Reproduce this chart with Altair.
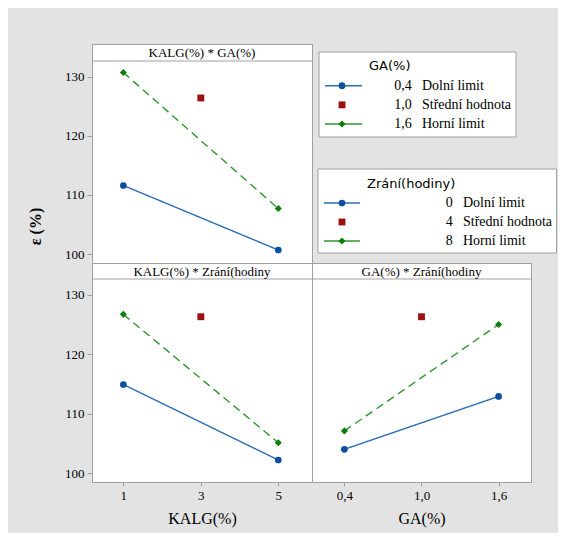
import altair as alt
import pandas as pd

# ---------------- data ----------------
series = ["low", "center", "high"]

kalg_levels = [1, 5]
kalg_center = 3
ga_levels = [0.4, 1.6]
ga_center = 1.0

# KALG(%) * GA(%)
p1_low = [111.6, 100.7]     # GA 0,4
p1_high = [130.7, 107.7]    # GA 1,6
p1_center = 126.4           # GA 1,0
# KALG(%) * Zrání(hodiny)
p2_low = [114.9, 102.2]     # 0 h
p2_high = [126.7, 105.1]    # 8 h
p2_center = 126.3           # 4 h
# GA(%) * Zrání(hodiny)
p3_low = [104.0, 112.9]
p3_high = [107.1, 125.0]
p3_center = 126.3

kalg_ticks = [1, 3, 5]
ga_ticks = [0.4, 1.0, 1.6]
y_ticks = [100, 110, 120, 130]

ga_legend_nums = ["0,4", "1,0", "1,6"]
zrani_legend_nums = ["0", "4", "8"]
legend_texts = ["Dolní limit", "Střední hodnota", "Horní limit"]
legend_titles = ["GA(%)", "Zrání(hodiny)"]

headers = ["KALG(%) * GA(%)", "KALG(%) * Zrání(hodiny", "GA(%) * Zrání(hodiny"]

# ---------------- style ----------------
SERIF = "Liberation Serif, Times New Roman, serif"
SANS = "DejaVu Sans"
GREY = "#a0a0a0"
BG = "#e3e3e3"
H = 219

marker_scale = alt.Scale(domain=series, range=["#0b4fa0", "#9b1111", "#0b7d0b"])
line_scale = alt.Scale(domain=series, range=["#2d6db5", "#9b1111", "#2f962f"])
shape_scale = alt.Scale(domain=series, range=["circle", "square", "diamond"])
size_scale = alt.Scale(domain=series, range=[45, 50, 160])
dash_scale = alt.Scale(domain=["low", "high"], range=[[1, 0], [8, 5]])


def panel_df(xs, low, high, xc, yc):
    rows = [{"x": x, "y": y, "s": "low"} for x, y in zip(xs, low)]
    rows += [{"x": xc, "y": yc, "s": "center"}]
    rows += [{"x": x, "y": y, "s": "high"} for x, y in zip(xs, high)]
    return pd.DataFrame(rows)


def panel(df, xdom, xticks, label_expr, header, header_h, width, ytitle, show_y, show_x, xtitle):
    ymin, ymax_plot = 98.5, 132.65
    ytop = ymax_plot + header_h * (ymax_plot - ymin) / (H - header_h)
    yscale = alt.Scale(domain=[ymin, ytop], nice=False, zero=False)
    xscale = alt.Scale(domain=xdom, nice=False, zero=False)
    if show_x:
        xaxis = alt.Axis(values=xticks, labelExpr=label_expr, title=xtitle, grid=False,
                         domain=False, tickSize=4, tickColor=GREY, labelFont=SERIF,
                         labelFontSize=13, labelColor="black", labelPadding=3,
                         titleFont=SERIF, titleFontSize=16, titleFontWeight="normal",
                         titleColor="black", titlePadding=8)
    else:
        xaxis = None
    if show_y:
        if ytitle:
            yaxis = alt.Axis(values=y_ticks, grid=False, domain=False, tickSize=5, tickColor=GREY,
                             labelFont=SERIF, labelFontSize=13, labelColor="black", labelPadding=3,
                             title=ytitle, titleFont=SERIF, titleFontSize=16, titleFontWeight="bold",
                             titleColor="black", titleX=-56.5, titleY=182, titleBaseline="middle")
        else:
            yaxis = alt.Axis(values=y_ticks, grid=False, domain=False, tickSize=5, tickColor=GREY,
                             labelFont=SERIF, labelFontSize=13, labelColor="black", labelPadding=3,
                             title=None)
    else:
        yaxis = None

    X = alt.X("x:Q", scale=xscale, axis=xaxis)
    Y = alt.Y("y:Q", scale=yscale, axis=yaxis)
    base = alt.Chart(df)
    lines = base.transform_filter("datum.s != 'center'").mark_line(strokeWidth=1.4).encode(
        x=X, y=Y,
        stroke=alt.Stroke("s:N", scale=line_scale, legend=None),
        strokeDash=alt.StrokeDash("s:N", scale=dash_scale, legend=None),
        detail="s:N",
    )
    points = base.mark_point(filled=True, opacity=1).encode(
        x=X, y=Y,
        fill=alt.Fill("s:N", scale=marker_scale, legend=None),
        shape=alt.Shape("s:N", scale=shape_scale, legend=None),
        size=alt.Size("s:O", scale=size_scale, legend=None),
    )
    hdf = pd.DataFrame({"t": [header]})
    hrule = alt.Chart(hdf).mark_rule(stroke=GREY, strokeWidth=1).encode(
        x=alt.value(0), x2=alt.value(width), y=alt.value(header_h))
    htext = alt.Chart(hdf).mark_text(font=SERIF, fontSize=13, color="black",
                                     align="center", baseline="middle").encode(
        x=alt.value(width / 2), y=alt.value(header_h / 2 + 0.5), text="t:N")
    return alt.layer(lines, points, hrule, htext).properties(width=width, height=H)


def legend_layers(field, title, nums, box, title_xy, rows_y, line_x, marker_x, num_right, text_left):
    ldf = pd.DataFrame({"s": series, "num": nums, "txt": legend_texts, field: [0, 1, 2]})
    tdf = pd.DataFrame({"t": [title]})
    yscale = alt.Scale(domain=[0, 2], range=list(rows_y))
    Y = alt.Y(f"{field}:Q", scale=yscale, axis=None)
    rect = alt.Chart(tdf).mark_rect(fill="white", stroke=GREY, strokeWidth=1).encode(
        x=alt.value(box[0]), x2=alt.value(box[1]), y=alt.value(box[2]), y2=alt.value(box[3]))
    ttl = alt.Chart(tdf).mark_text(font=SANS, fontSize=13, color="black", align="left",
                                   baseline="middle").encode(
        x=alt.value(title_xy[0]), y=alt.value(title_xy[1]), text="t:N")
    ln = alt.Chart(ldf).transform_filter("datum.s != 'center'").mark_rule(strokeWidth=1.4).encode(
        x=alt.value(line_x[0]), x2=alt.value(line_x[1]), y=Y,
        stroke=alt.Stroke("s:N", scale=line_scale, legend=None))
    pts = alt.Chart(ldf).mark_point(filled=True, opacity=1).encode(
        x=alt.value(marker_x), y=Y,
        fill=alt.Fill("s:N", scale=marker_scale, legend=None),
        shape=alt.Shape("s:N", scale=shape_scale, legend=None),
        size=alt.Size("s:O", scale=size_scale, legend=None))
    numt = alt.Chart(ldf).mark_text(font=SERIF, fontSize=14, color="black", align="right",
                                    baseline="middle").encode(
        x=alt.value(num_right), y=Y, text="num:N")
    txtt = alt.Chart(ldf).mark_text(font=SERIF, fontSize=14, color="black", align="left",
                                    baseline="middle").encode(
        x=alt.value(text_left), y=Y, text="txt:N")
    return [rect, ttl, ln, pts, numt, txtt]


df1 = panel_df(kalg_levels, p1_low, p1_high, kalg_center, p1_center)
df2 = panel_df(kalg_levels, p2_low, p2_high, kalg_center, p2_center)
df3 = panel_df(ga_levels, p3_low, p3_high, ga_center, p3_center)

kalg_dom = [0.19, 5.87]
ga_dom = [0.148, 1.852]
ga_expr = "replace(format(datum.value, '.1f'), '.', ',')"
kalg_expr = "format(datum.value, 'd')"

top = panel(df1, kalg_dom, kalg_ticks, kalg_expr, headers[0], 17, 220, "ε (%)", True, False, None)
botL = panel(df2, kalg_dom, kalg_ticks, kalg_expr, headers[1], 16, 220, None, True, True, "KALG(%)")
botR = panel(df3, ga_dom, ga_ticks, ga_expr, headers[2], 16, 219, None, False, True, "GA(%)")

LW = 245
leg_a = legend_layers("i", legend_titles[0], ga_legend_nums, (7, 204, 8, 93), (57, 22),
                      (41.7, 80), (13, 50), 30, 99.7, 110)
leg_b = legend_layers("j", legend_titles[1], zrani_legend_nums, (6, LW - 0.5, 125, 209), (55, 140),
                      (159, 197), (12, 48), 30, 140.7, 151)
legend = alt.layer(*leg_a, *leg_b).resolve_scale(y="independent").properties(
    width=LW, height=H,
    view=alt.ViewBackground(fill="transparent", stroke="transparent"))

chart = alt.concat(top, legend, botL, botR, columns=2, spacing=0, bounds="flush").resolve_scale(
    x="independent", y="independent"
).properties(
    background=BG,
    padding={"left": 19, "top": 35, "right": 0, "bottom": 6},
).configure_view(fill="white", stroke=GREY, strokeWidth=1)

chart.save("out.html", embed_options={"renderer": "svg", "actions": False})
